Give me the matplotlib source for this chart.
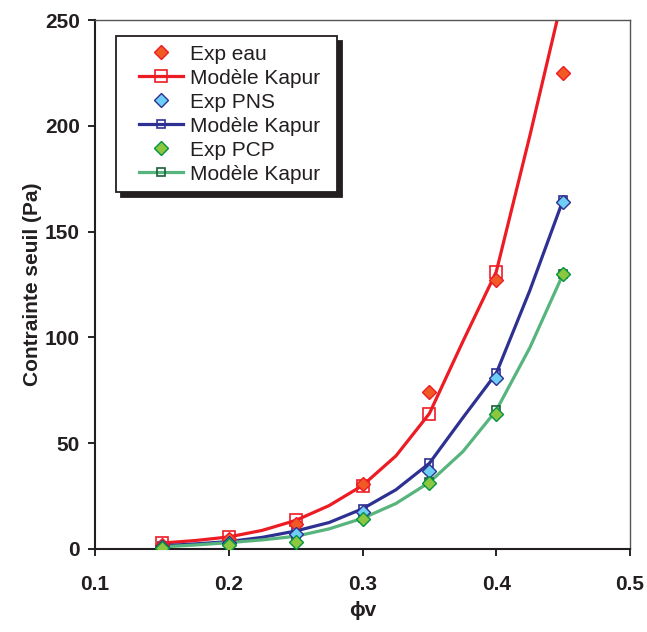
import matplotlib
matplotlib.use("Agg")
import matplotlib.pyplot as plt
from matplotlib.legend_handler import HandlerLine2D

plt.rcParams['font.family'] = ['Liberation Sans', 'DejaVu Sans']

# ---------------------------------------------------------------- data
phi_exp   = [0.15, 0.20, 0.25, 0.30, 0.35, 0.40, 0.45]
exp_eau   = [2.0, 4.5, 12.0, 30.5, 74.0, 127.0, 225.0]
exp_pns   = [1.0, 3.0, 7.0, 17.5, 37.0, 81.0, 164.0]
exp_pcp   = [0.5, 2.0, 3.2, 14.0, 31.0, 64.0, 130.0]

phi_mod   = [0.15, 0.175, 0.20, 0.225, 0.25, 0.275, 0.30, 0.325,
             0.35, 0.375, 0.40, 0.425, 0.45]
mod_eau   = [2.8, 4.0, 5.7, 8.8, 13.5, 20.5, 30.0, 44.0, 64.0, 98.0, 131.0, 195.0, 262.0]
mod_pns   = [1.5, 2.4, 3.5, 5.5, 8.5, 12.5, 19.0, 28.0, 40.5, 62.0, 83.0, 122.0, 165.0]
mod_pcp   = [1.0, 1.9, 3.0, 4.3, 6.0, 9.5, 14.5, 21.5, 31.5, 46.0, 65.5, 95.0, 130.0]

x_ticks = [0.1, 0.2, 0.3, 0.4, 0.5]
y_ticks = [0, 50, 100, 150, 200, 250]

# ---------------------------------------------------------------- figure
fig = plt.figure(figsize=(6.47, 6.32), dpi=100)
ax = fig.add_axes([95 / 647, 1 - 549 / 632, 535 / 647, 529 / 632])

ax.plot(phi_exp, exp_eau, ls='none', marker='D', ms=7, mfc='#f15a24',
        mec='#ed1c24', mew=1, label='Exp eau', zorder=3)
ax.plot(phi_mod, mod_eau, color='#ed1c24', lw=2.3, marker='s', ms=8.5,
        mfc='none', mec='#ed1c24', mew=1.2, markevery=2,
        label='Modèle Kapur', zorder=2)
ax.plot(phi_exp, exp_pns, ls='none', marker='D', ms=7, mfc='#6dcff6',
        mec='#2e3192', mew=1, label='Exp PNS', zorder=3)
ax.plot(phi_mod, mod_pns, color='#2e3192', lw=2.3, marker='s', ms=6,
        mfc='none', mec='#2e3192', mew=1.2, markevery=2,
        label='Modèle Kapur', zorder=2)
ax.plot(phi_exp, exp_pcp, ls='none', marker='D', ms=7, mfc='#8dc63f',
        mec='#009444', mew=1, label='Exp PCP', zorder=3)
ax.plot(phi_mod, mod_pcp, color='#57b47c', lw=2.3, marker='s', ms=6,
        mfc='none', mec='#1b5e36', mew=1.2, markevery=2,
        label='Modèle Kapur', zorder=2)

ax.set_xlim(0.1, 0.5)
ax.set_ylim(0, 250)
ax.set_xticks(x_ticks)
ax.set_xticklabels([f"{v:.1f}" for v in x_ticks])
ax.set_yticks(y_ticks)

ax.tick_params(axis='both', direction='out', length=5, width=1.2,
               labelsize=15)
ax.tick_params(axis='x', pad=14)
ax.tick_params(axis='y', pad=6)
for lab in ax.get_xticklabels() + ax.get_yticklabels():
    lab.set_fontweight('bold')
    lab.set_color('#231f20')

for side in ('left', 'bottom'):
    ax.spines[side].set_linewidth(1.5)
    ax.spines[side].set_color('#231f20')
for side in ('top', 'right'):
    ax.spines[side].set_linewidth(1.0)
    ax.spines[side].set_color('#555555')

ax.set_ylabel('Contrainte seuil (Pa)', fontsize=15, fontweight='bold',
              color='#231f20', labelpad=2)
ax.set_xlabel('ϕv', fontsize=15, fontweight='bold', color='#231f20',
              labelpad=5)

# legende: feste Breite, Handles etwas eingerueckt
leg = ax.legend(loc='upper left', bbox_to_anchor=(0.039, 0.970, 0.413, 0.0),
                mode='expand', borderaxespad=0, fontsize=15, frameon=True,
                fancybox=False, handlelength=2.8, handletextpad=0.33,
                labelspacing=0.24, borderpad=0.42,
                handler_map={plt.Line2D: HandlerLine2D(xpad=0.7)},
                shadow={'ox': 3.5, 'oy': -3.5, 'color': '#231f20', 'alpha': 1})
leg.get_frame().set_edgecolor('#231f20')
leg.get_frame().set_linewidth(1.3)
for t in leg.get_texts():
    t.set_color('#231f20')

fig.savefig('out.png', dpi=100)
